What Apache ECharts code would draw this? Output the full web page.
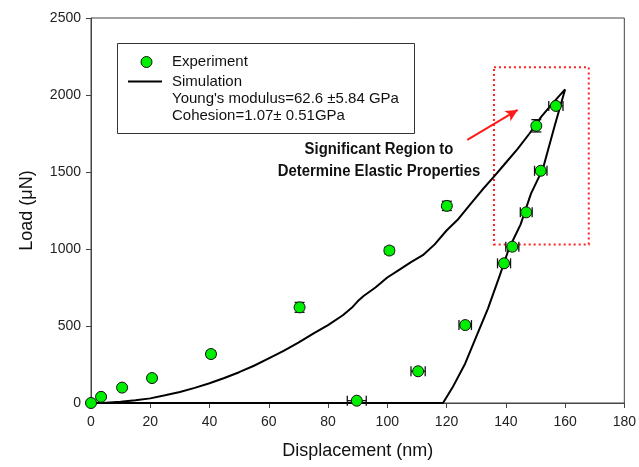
<!DOCTYPE html>
<html>
<head>
<meta charset="utf-8">
<script src="https://cdn.jsdelivr.net/npm/echarts@6/dist/echarts.min.js"></script>
<style>
  html, body { margin: 0; padding: 0; background: #fff; }
  #chart { width: 639px; height: 467px; }
</style>
</head>
<body>
<div id="chart"></div>
<script>
// Nanoindentation load–displacement: measured points with error bars vs. simulated curve
const expX = [0, 3.4, 10.5, 20.6, 40.5, 70.4, 100.7, 120.1, 150.3, 156.9, 151.8, 146.9, 142.2, 139.4, 126.3, 110.4, 89.7];
const expY = [0, 40, 100, 162, 318, 621, 990, 1280, 1800, 1929, 1508, 1238, 1015, 907, 506, 206, 15];
const expXErr = [0, 0, 0, 0, 0, 0, 0, 0, 0, 2.4, 2.1, 2.0, 2.2, 2.2, 2.1, 2.4, 3.2];
const expYErr = [10, 12, 15, 15, 20, 32, 22, 30, 40, 0, 0, 0, 0, 0, 0, 0, 0];

// simulated loading branch, unloading branch, then back along zero load
const simX = [0, 5, 10, 15, 20, 25, 30, 35, 40, 45, 50, 55, 60, 65, 70, 75, 80, 85, 88, 90, 92, 96, 100, 104, 108, 112, 116, 120, 124, 128, 132, 136, 140, 144, 148, 152, 156, 160,
              156.5, 152.5, 148.5, 145, 141, 138, 134, 130, 126.3, 122, 118.8, 0];
const simY = [0, 2, 8, 18, 30, 50, 72, 98, 128, 162, 200, 242, 290, 338, 392, 450, 506, 570, 618, 660, 695, 750, 815, 865, 915, 960, 1030, 1120, 1195, 1290, 1383, 1470, 1560, 1650, 1750, 1860, 1950, 2036,
              1800, 1520, 1360, 1160, 1000, 830, 615, 430, 257, 100, 0, 0];

const xTicks = { min: 0, max: 180, step: 20 };
const yTicks = { min: 0, max: 2500, step: 500 };

const regionBox = [[136, 2180], [168, 1030]];
const arrowFrom = [127, 1708];
const arrowTo = [144, 1903];

const legendNames = ['Experiment', 'Simulation'];
const legendNotes = ["Young's modulus=62.6 \u00B15.84 GPa", "Cohesion=1.07\u00B1 0.51GPa"];
const annotation = ['Significant Region to', 'Determine Elastic Properties'];

const FONT = "'Liberation Sans', Arial, sans-serif";
const GREEN = '#00ee00';

const points = expX.map((x, i) => [x, expY[i]]);
const errData = expX.map((x, i) => [x, expY[i], expXErr[i], expYErr[i]]);
const simData = simX.map((x, i) => [x, simY[i]]);

const chart = echarts.init(document.getElementById('chart'), null, { renderer: 'canvas' });

function renderErr(params, api) {
  const x = api.value(0), y = api.value(1), dx = api.value(2), dy = api.value(3);
  const style = { stroke: '#111', lineWidth: 1.3 };
  const children = [];
  const cap = 5;
  if (dy > 0) {
    const top = api.coord([x, y + dy]);
    const bot = api.coord([x, y - dy]);
    children.push({ type: 'line', shape: { x1: top[0], y1: top[1], x2: bot[0], y2: bot[1] }, style });
    children.push({ type: 'line', shape: { x1: top[0] - cap, y1: top[1], x2: top[0] + cap, y2: top[1] }, style });
    children.push({ type: 'line', shape: { x1: bot[0] - cap, y1: bot[1], x2: bot[0] + cap, y2: bot[1] }, style });
  }
  if (dx > 0) {
    const l = api.coord([x - dx, y]);
    const r = api.coord([x + dx, y]);
    children.push({ type: 'line', shape: { x1: l[0], y1: l[1], x2: r[0], y2: r[1] }, style });
    children.push({ type: 'line', shape: { x1: l[0], y1: l[1] - cap, x2: l[0], y2: l[1] + cap }, style });
    children.push({ type: 'line', shape: { x1: r[0], y1: r[1] - cap, x2: r[0], y2: r[1] + cap }, style });
  }
  return { type: 'group', children };
}

const txt = (x, y, s) => ({
  type: 'text', x, y, z: 10,
  style: { text: s, font: '15px ' + FONT, fill: '#111', verticalAlign: 'middle' }
});

const option = {
  backgroundColor: '#fff',
  animation: false,
  textStyle: { fontFamily: FONT },
  grid: {
    left: 91, right: 12, top: 18, bottom: 64,
    show: true, borderColor: '#444', borderWidth: 1, backgroundColor: 'transparent'
  },
  xAxis: {
    type: 'value', min: xTicks.min, max: xTicks.max, interval: xTicks.step,
    name: 'Displacement (nm)', nameLocation: 'middle', nameGap: 39,
    nameTextStyle: { fontSize: 18, color: '#111', fontFamily: FONT },
    axisLine: { show: true, lineStyle: { color: '#444', width: 1 } },
    axisTick: { show: true, inside: false, length: 5, lineStyle: { color: '#444' } },
    axisLabel: { fontSize: 14, color: '#222', margin: 12, fontFamily: FONT },
    splitLine: { show: false }
  },
  yAxis: {
    type: 'value', min: yTicks.min, max: yTicks.max, interval: yTicks.step,
    name: 'Load (\u03BCN)', nameLocation: 'middle', nameGap: 55,
    nameTextStyle: { fontSize: 18, color: '#111', fontFamily: FONT },
    axisLine: { show: true, lineStyle: { color: '#444', width: 1 } },
    axisTick: { show: true, inside: false, length: 5, lineStyle: { color: '#444' } },
    axisLabel: { fontSize: 14, color: '#222', margin: 10, fontFamily: FONT, formatter: v => String(v) },
    splitLine: { show: false }
  },
  graphic: [
    // legend frame and entries
    { type: 'rect', shape: { x: 117.5, y: 43.5, width: 297, height: 90 },
      style: { fill: 'none', stroke: '#333', lineWidth: 1 }, z: 10 },
    { type: 'circle', shape: { cx: 146.5, cy: 62, r: 5.5 },
      style: { fill: GREEN, stroke: '#111', lineWidth: 1 }, z: 10 },
    { type: 'line', shape: { x1: 128, y1: 81.5, x2: 162, y2: 81.5 },
      style: { stroke: '#000', lineWidth: 2 }, z: 10 },
    txt(172, 62, legendNames[0]),
    txt(172, 81.5, legendNames[1]),
    txt(172, 99, legendNotes[0]),
    txt(172, 115.5, legendNotes[1]),
    // annotation for the boxed region
    { type: 'text', x: 379, y: 150, scaleX: 0.93, z: 10,
      style: { text: annotation[0], font: 'bold 16px ' + FONT, fill: '#111', align: 'center', verticalAlign: 'middle' } },
    { type: 'text', x: 379, y: 172, scaleX: 0.93, z: 10,
      style: { text: annotation[1], font: 'bold 16px ' + FONT, fill: '#111', align: 'center', verticalAlign: 'middle' } }
  ],
  series: [
    {
      name: 'Simulation', type: 'line', data: simData,
      symbol: 'none', smooth: false,
      lineStyle: { color: '#000', width: 2 },
      itemStyle: { color: '#000' },
      z: 3,
      markArea: {
        silent: true,
        itemStyle: { color: 'rgba(0,0,0,0)', borderColor: '#ff2020', borderWidth: 2, borderType: [2, 3] },
        data: [[{ coord: regionBox[0] }, { coord: regionBox[1] }]]
      },
      markLine: {
        silent: true, symbol: ['none', 'arrow'], symbolSize: [9, 12],
        lineStyle: { color: '#ff1a1a', width: 2, type: 'solid' },
        label: { show: false },
        data: [[{ coord: arrowFrom }, { coord: arrowTo }]]
      }
    },
    {
      name: 'errors', type: 'custom', data: errData, renderItem: renderErr,
      encode: { x: 0, y: 1 }, z: 4, silent: true
    },
    {
      name: 'Experiment', type: 'scatter', data: points,
      symbol: 'circle', symbolSize: 11,
      itemStyle: { color: GREEN, borderColor: '#111', borderWidth: 1, opacity: 1 },
      z: 6
    }
  ]
};

chart.setOption(option);
</script>
</body>
</html>
